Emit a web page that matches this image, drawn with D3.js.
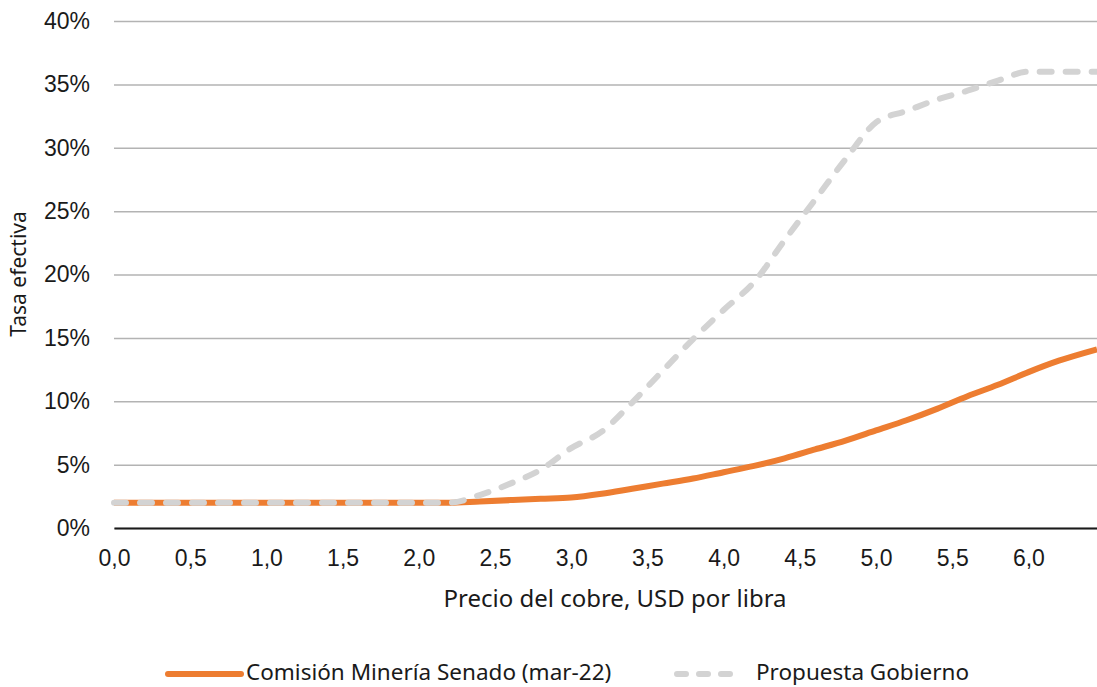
<!DOCTYPE html>
<html>
<head>
<meta charset="utf-8">
<script src="https://cdn.jsdelivr.net/npm/d3@7"></script>
<style>
  body { margin: 0; background: #fff; }
  svg { display: block; font-family: "Noto Sans", Lato, sans-serif; }
</style>
</head>
<body>
<div id="chart"></div>
<script>
// precio del cobre (USD/lb)
const precios = [0, 0.5, 1.0, 1.5, 2.0, 2.2, 2.4, 2.6, 2.8, 3.0, 3.2, 3.4, 3.6, 3.8, 4.0, 4.2, 4.4, 4.6, 4.8, 5.0, 5.2, 5.4, 5.6, 5.8, 6.0, 6.2, 6.45];
// tasa efectiva, en %
const senado = [2.0, 2.0, 2.0, 2.0, 2.0, 2.0, 2.1, 2.2, 2.3, 2.4, 2.7, 3.1, 3.5, 3.9, 4.4, 4.9, 5.5, 6.2, 6.9, 7.7, 8.5, 9.4, 10.4, 11.3, 12.3, 13.2, 14.1];
const gobierno = [2.0, 2.0, 2.0, 2.0, 2.0, 2.0, 2.6, 3.5, 4.6, 6.3, 7.6, 9.9, 12.4, 14.9, 17.2, 19.4, 22.7, 25.9, 29.1, 32.0, 32.9, 33.8, 34.5, 35.3, 36.0, 36.0, 36.0];
const xTicks = [0, 0.5, 1.0, 1.5, 2.0, 2.5, 3.0, 3.5, 4.0, 4.5, 5.0, 5.5, 6.0];
const yTicks = [0, 0.05, 0.10, 0.15, 0.20, 0.25, 0.30, 0.35, 0.40];
const seriesNames = ["Comisión Minería Senado (mar-22)", "Propuesta Gobierno"];

const width = 1097, height = 687;
const margin = { top: 21, right: 0, bottom: 159, left: 114 };
const textColor = "#1a1a1a";

const svg = d3.select("#chart").append("svg")
  .attr("width", width)
  .attr("height", height);

const x = d3.scaleLinear()
  .domain([0, 6.45])
  .range([margin.left, width - margin.right]);

const y = d3.scaleLinear()
  .domain([0, 0.40])
  .range([height - margin.bottom, margin.top]);

const es = d3.formatLocale({ decimal: ",", thousands: ".", grouping: [3], currency: ["$", ""] });

// grid + y axis labels
const yAxis = d3.axisLeft(y)
  .tickValues(yTicks)
  .tickFormat(d3.format(".0%"))
  .tickSize(-(width - margin.left - margin.right))
  .tickPadding(24);

svg.append("g")
  .attr("transform", `translate(${margin.left},0)`)
  .call(yAxis)
  .call(g => g.select(".domain").remove())
  .call(g => g.selectAll(".tick line").attr("stroke", "#b3b3b3").attr("stroke-width", 1.5))
  .call(g => g.selectAll(".tick text").attr("fill", textColor).attr("font-size", 23));

// x axis
const xAxis = d3.axisBottom(x)
  .tickValues(xTicks)
  .tickFormat(es.format(".1f"))
  .tickSize(0)
  .tickPadding(22);

svg.append("g")
  .attr("transform", `translate(0,${y(0)})`)
  .call(xAxis)
  .call(g => g.select(".domain").attr("stroke", textColor).attr("stroke-width", 2))
  .call(g => g.selectAll(".tick text").attr("fill", textColor).attr("font-size", 23));

// lines (same generator for both series)
const line = d3.line()
  .x((d, i) => x(precios[i]))
  .y(d => y(d / 100))
  .curve(d3.curveMonotoneX);

svg.append("path")
  .datum(senado)
  .attr("fill", "none")
  .attr("stroke", "#ED7D31")
  .attr("stroke-width", 6)
  .attr("d", line);

svg.append("path")
  .datum(gobierno)
  .attr("fill", "none")
  .attr("stroke", "#d3d3d3")
  .attr("stroke-width", 6)
  .attr("stroke-linecap", "round")
  .attr("stroke-dasharray", "12,14")
  .attr("d", line);

// axis titles
svg.append("text")
  .attr("x", 615)
  .attr("y", 601)
  .attr("text-anchor", "middle")
  .attr("dominant-baseline", "middle")
  .attr("font-size", 24)
  .attr("fill", textColor)
  .text("Precio del cobre, USD por libra");

svg.append("text")
  .attr("transform", "translate(20,274) rotate(-90)")
  .attr("text-anchor", "middle")
  .attr("dominant-baseline", "middle")
  .attr("font-size", 21)
  .attr("fill", textColor)
  .text("Tasa efectiva");

// legend
const legend = svg.append("g").attr("transform", "translate(0,674)");
legend.append("line")
  .attr("x1", 168).attr("x2", 241)
  .attr("stroke", "#ED7D31").attr("stroke-width", 6).attr("stroke-linecap", "round");
legend.append("text")
  .attr("x", 246).attr("dominant-baseline", "middle")
  .attr("font-size", 22.5).attr("fill", textColor)
  .text(seriesNames[0]);
legend.append("line")
  .attr("x1", 677).attr("x2", 730)
  .attr("stroke", "#d3d3d3").attr("stroke-width", 6).attr("stroke-linecap", "round")
  .attr("stroke-dasharray", "9,13");
legend.append("text")
  .attr("x", 756).attr("dominant-baseline", "middle")
  .attr("font-size", 22.5).attr("fill", textColor)
  .text(seriesNames[1]);
</script>
</body>
</html>
